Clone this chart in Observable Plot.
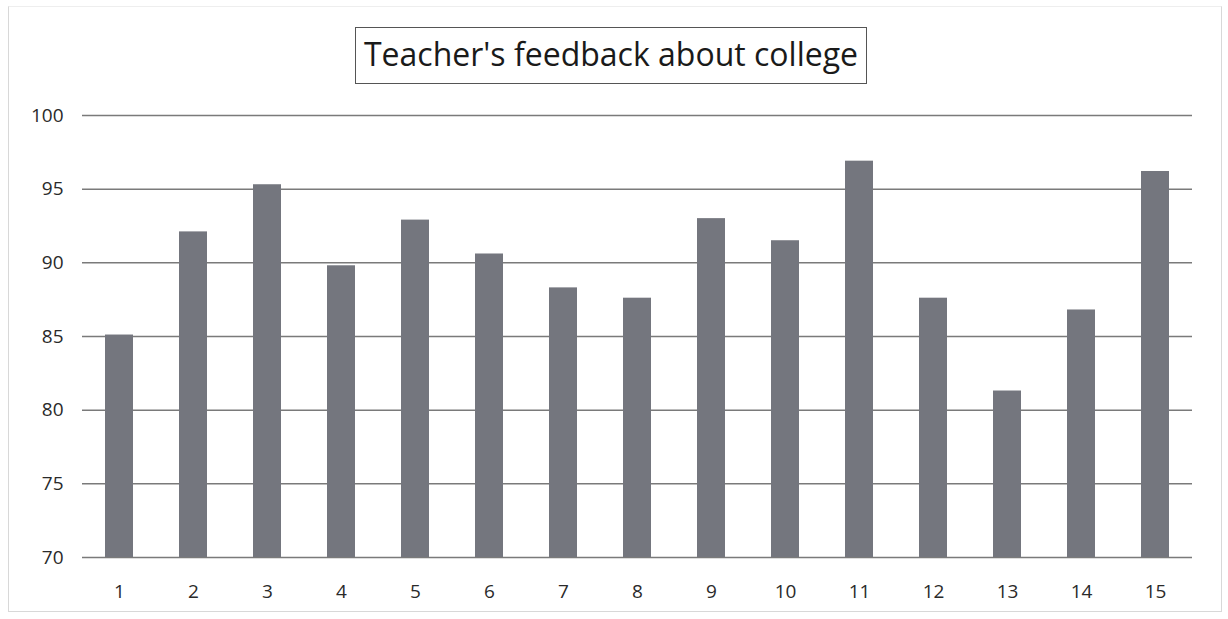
<!DOCTYPE html>
<html>
<head>
<meta charset="utf-8">
<script src="https://cdn.jsdelivr.net/npm/d3@7"></script>
<script src="https://cdn.jsdelivr.net/npm/@observablehq/plot@0.6"></script>
<style>
  html, body { margin: 0; padding: 0; background: #fff; }
  #wrap { width: 1228px; height: 619px; position: relative; overflow: hidden; font-family: "Open Sans", "DejaVu Sans", sans-serif; }
  #frame { position: absolute; left: 8px; top: 6px; width: 1212px; height: 604px; border: 1px solid #d8d8d8; border-top-color: #eee; pointer-events: none; }
  #titlebar { height: 100px; display: flex; justify-content: center; align-items: flex-start; }
  #title { margin-top: 27px; margin-left: -6px; border: 1.5px solid #555; padding: 1px 8px 4px 8px; font-size: 32px; color: #1a1a1a; line-height: 50px; }
</style>
</head>
<body>
<div id="wrap">
  <div id="frame"></div>
  <div id="titlebar"><div id="title">Teacher's feedback about college</div></div>
  <div id="chart"></div>
</div>
<script>
const categories = ["1","2","3","4","5","6","7","8","9","10","11","12","13","14","15"];
const scores = [85.1, 92.1, 95.3, 89.8, 92.9, 90.6, 88.3, 87.6, 93.0, 91.5, 96.9, 87.6, 81.3, 86.8, 96.2];
const yTicks = [70, 75, 80, 85, 90, 95, 100];

const data = categories.map((c, i) => ({category: c, score: scores[i]}));

const chart = Plot.plot({
  width: 1228,
  height: 519,
  marginLeft: 82,
  marginRight: 36,
  marginTop: 15,
  marginBottom: 62,
  style: {fontFamily: "'Open Sans', 'DejaVu Sans', sans-serif", fontSize: "19px", color: "#2a2a2a", background: "transparent"},
  x: {domain: categories, paddingInner: 0.62, paddingOuter: 0.31, label: null, tickSize: 0, tickPadding: 27},
  y: {domain: [70, 100], ticks: yTicks, label: null, tickSize: 0, tickPadding: 19, tickFormat: d => String(d)},
  marks: [
    Plot.ruleY(yTicks, {stroke: "#7a7a7a", strokeWidth: 1.5}),
    Plot.barY(data, {x: "category", y1: 70, y2: "score", fill: "#74767e"})
  ]
});
document.getElementById("chart").appendChild(chart);
</script>
</body>
</html>
